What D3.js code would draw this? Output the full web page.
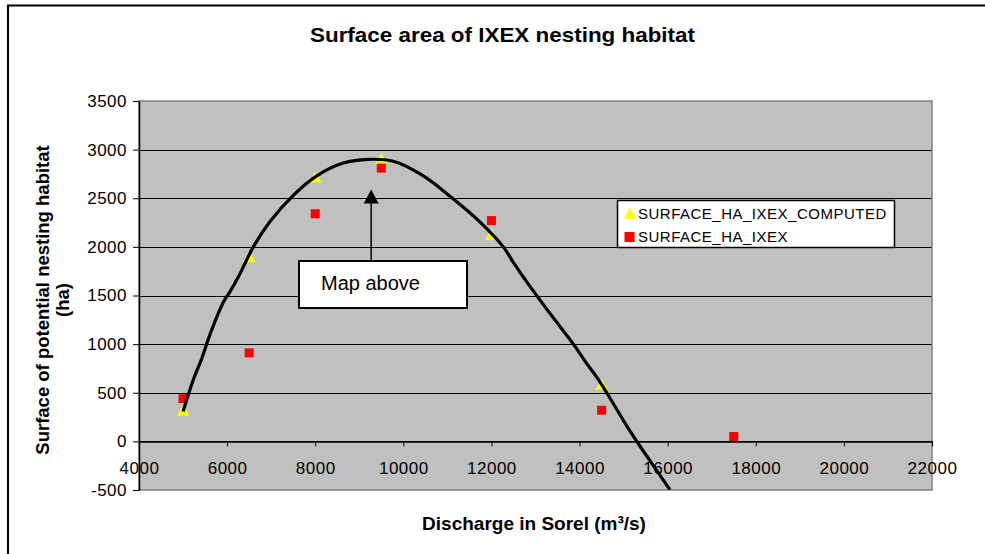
<!DOCTYPE html>
<html><head><meta charset="utf-8">
<script src="https://cdn.jsdelivr.net/npm/d3@7"></script>
<style>
body{margin:0;background:#fff}
svg{display:block;font-family:"Liberation Sans",Arial,sans-serif}
</style>
</head><body>
<svg id="c" width="985" height="554"></svg>
<script>
// ---- data ----
const chartTitle = "Surface area of IXEX nesting habitat";
const xTitle = "Discharge in Sorel (m³/s)";
const yTitleLines = ["Surface of potential nesting habitat", "(ha)"];
const xTicks = [4000, 6000, 8000, 10000, 12000, 14000, 16000, 18000, 20000, 22000];
const yTicks = [-500, 0, 500, 1000, 1500, 2000, 2500, 3000, 3500];
const seriesNames = ["SURFACE_HA_IXEX_COMPUTED", "SURFACE_HA_IXEX"];
const computedX = [5000, 6500, 8000, 9500, 12000, 14500];
const computedY = [300, 1880, 2700, 2890, 2110, 570];
const observedX = [5000, 6500, 8000, 9500, 12000, 14500, 17500];
const observedY = [440, 910, 2340, 2810, 2270, 320, 50];
const trendX = [5000, 5233, 5423, 5612, 5914, 6066, 6254, 6595, 6974, 7503, 8034, 8638, 9205, 9773, 10454, 11060, 11778, 12270, 12497, 12801, 13255, 13859, 14163, 14390, 14617, 15071, 15373, 15600, 16054];
const trendY = [307, 633, 850, 1100, 1430, 1540, 1690, 2000, 2260, 2530, 2730, 2862, 2900, 2880, 2730, 2520, 2240, 2000, 1840, 1640, 1360, 1000, 800, 660, 500, 160, -50, -200, -499];
const annotationText = "Map above";
const annotationTarget = [9270, 2590];

// ---- layout ----
const svg = d3.select("#c");
const P = {l: 139, r: 932, t: 101, b: 490};
const x = d3.scaleLinear().domain([4000, 22000]).range([P.l, P.r]);
const y = d3.scaleLinear().domain([-500, 3500]).range([P.b, P.t]);
const crisp = v => Math.round(v) + 0.5;
const fmt = d => String(d);

// outer chart border
svg.append("rect").attr("x", 8).attr("y", 5.5).attr("width", 1000).attr("height", 600)
  .attr("fill", "#fff").attr("stroke", "#000").attr("stroke-width", 2);

// plot background
svg.append("rect").attr("x", P.l).attr("y", P.t).attr("width", P.r - P.l).attr("height", P.b - P.t)
  .attr("fill", "#c0c0c0");

// gridlines
svg.append("g").selectAll("line").data(yTicks.filter(v => v > -500 && v < 3500)).join("line")
  .attr("x1", P.l).attr("x2", P.r).attr("y1", d => crisp(y(d))).attr("y2", d => crisp(y(d)))
  .attr("stroke", "#000").attr("stroke-width", 1);

// plot border
svg.append("rect").attr("x", P.l).attr("y", P.t).attr("width", P.r - P.l).attr("height", P.b - P.t)
  .attr("fill", "none").attr("stroke", "#808080").attr("stroke-width", 1.5);

// y axis
const gy = svg.append("g").attr("transform", `translate(${P.l},0)`)
  .call(d3.axisLeft(y).tickValues(yTicks).tickSize(6).tickSizeOuter(0).tickPadding(6).tickFormat(fmt));
gy.select(".domain").attr("stroke", "#000").attr("stroke-width", 1.5);
gy.selectAll(".tick line").attr("stroke", "#000");
gy.selectAll("text").attr("font-size", 17).attr("fill", "#000").attr("letter-spacing", 0.5);

// x axis at y = 0
const gx = svg.append("g").attr("transform", `translate(0,${y(0)})`)
  .call(d3.axisBottom(x).tickValues(xTicks).tickSize(5).tickSizeOuter(0).tickPadding(16).tickFormat(fmt));
gx.select(".domain").attr("stroke", "#000").attr("stroke-width", 1.5);
gx.selectAll(".tick line").attr("stroke", "#000");
gx.selectAll("text").attr("font-size", 17).attr("fill", "#000").attr("letter-spacing", 0.5);

// clip
svg.append("clipPath").attr("id", "clip").append("rect")
  .attr("x", P.l).attr("y", P.t).attr("width", P.r - P.l).attr("height", P.b - P.t);

// computed points (yellow triangles)
const tri = d3.symbol().type(d3.symbolTriangle).size(70);
svg.append("g").selectAll("path").data(computedX.map((v, i) => [v, computedY[i]])).join("path")
  .attr("d", tri).attr("transform", d => `translate(${x(d[0])},${y(d[1])})`).attr("fill", "#ffff00");

// observed points (red squares)
svg.append("g").selectAll("rect").data(observedX.map((v, i) => [v, observedY[i]])).join("rect")
  .attr("x", d => x(d[0]) - 4.5).attr("y", d => y(d[1]) - 4.5).attr("width", 9).attr("height", 9)
  .attr("fill", "#ff0000");

// trend line
svg.append("path").attr("clip-path", "url(#clip)")
  .datum(trendX.map((v, i) => [v, trendY[i]]))
  .attr("d", d3.line().x(d => x(d[0])).y(d => y(d[1])).curve(d3.curveCatmullRom))
  .attr("fill", "none").attr("stroke", "#000").attr("stroke-width", 3.2).attr("stroke-linejoin", "round");

// annotation
const ax = x(annotationTarget[0]), ay = y(annotationTarget[1]);
const box = {x: 299, y: 261, w: 168, h: 47};
svg.append("line").attr("x1", ax).attr("x2", ax).attr("y1", ay + 12).attr("y2", box.y)
  .attr("stroke", "#000").attr("stroke-width", 1.5);
svg.append("path").attr("d", `M${ax},${ay} L${ax - 7.5},${ay + 14} L${ax + 7.5},${ay + 14} Z`).attr("fill", "#000");
svg.append("rect").attr("x", box.x).attr("y", box.y).attr("width", box.w).attr("height", box.h)
  .attr("fill", "#fff").attr("stroke", "#000").attr("stroke-width", 2);
svg.append("text").attr("x", 321).attr("y", 290).attr("font-size", 20).attr("fill", "#000").text(annotationText);

// legend
const L = {x: 617.5, y: 200.5, w: 277, h: 47};
svg.append("rect").attr("x", L.x).attr("y", L.y).attr("width", L.w).attr("height", L.h)
  .attr("fill", "#fff").attr("stroke", "#000").attr("stroke-width", 1.5);
svg.append("path").attr("d", tri).attr("transform", "translate(630,215)").attr("fill", "#ffff00");
svg.append("rect").attr("x", 624.5).attr("y", 232).attr("width", 10).attr("height", 10).attr("fill", "#ff0000");
svg.append("text").attr("x", 638).attr("y", 219).attr("font-size", 15).attr("letter-spacing", 0.5).text(seriesNames[0]);
svg.append("text").attr("x", 638).attr("y", 241.5).attr("font-size", 15).attr("letter-spacing", 0.5).text(seriesNames[1]);

// titles
svg.append("text").attr("x", 502.5).attr("y", 42).attr("text-anchor", "middle")
  .attr("font-size", 20).attr("font-weight", "bold").attr("textLength", 385).attr("lengthAdjust", "spacingAndGlyphs")
  .text(chartTitle);
svg.append("text").attr("x", 534).attr("y", 530).attr("text-anchor", "middle")
  .attr("font-size", 19).attr("font-weight", "bold").text(xTitle);
const yt = svg.append("text").attr("transform", "translate(0,300) rotate(-90)")
  .attr("text-anchor", "middle").attr("font-size", 18.5).attr("font-weight", "bold");
yt.append("tspan").attr("x", 0).attr("y", 49).text(yTitleLines[0]);
yt.append("tspan").attr("x", 0).attr("y", 69).text(yTitleLines[1]);
</script>
</body></html>
